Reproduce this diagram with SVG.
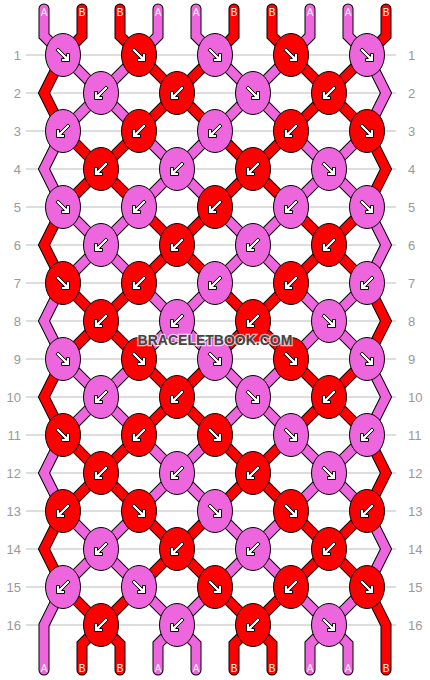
<svg xmlns="http://www.w3.org/2000/svg" xmlns:xlink="http://www.w3.org/1999/xlink" width="430" height="680" viewBox="0 0 430 680">
<style>
.grid{stroke:#bbbbbb;stroke-width:1;fill:none}
.num{font-family:"Liberation Sans",Arial,sans-serif;font-size:13px;fill:#999999}
.lbl{font-family:"Liberation Sans",Arial,sans-serif;font-size:10px;fill:#ffffff;text-anchor:middle}
.o{fill:none;stroke:#000;stroke-width:11;stroke-linecap:round;stroke-linejoin:miter}
.c{fill:none;stroke-width:9;stroke-linecap:round;stroke-linejoin:miter}
.cp{stroke:#ee66dd}
.cr{stroke:#ff0000}
.k ellipse{stroke:#000;stroke-width:1}
.p ellipse{fill:#ee66dd}
.r ellipse{fill:#ff0000}
.arr{fill:#fff;stroke:#000;stroke-width:1}
.wm{font-family:"Liberation Sans",Arial,sans-serif;font-size:14px;font-weight:bold;fill:#444;stroke:#fff;stroke-width:2.5;stroke-opacity:0.7;paint-order:stroke;text-anchor:middle}
</style>
<defs>
<polygon id="f" class="arr" points="6.5,6.5 -1.5,6.5 -1.5,3.5 1.4,3.5 -7.06,-4.94 -4.94,-7.06 3.5,1.4 3.5,-1.5 6.5,-1.5"/>
<polygon id="b" class="arr" points="-6.5,6.5 1.5,6.5 1.5,3.5 -1.4,3.5 7.06,-4.94 4.94,-7.06 -3.5,1.4 -3.5,-1.5 -6.5,-1.5"/>
</defs>
<g id="grid">
<path class="grid" d="M26 55H396M26 93H396M26 131H396M26 169H396M26 207H396M26 245H396M26 283H396M26 321H396M26 359H396M26 397H396M26 435H396M26 473H396M26 511H396M26 549H396M26 587H396M26 625H396"/>
<g class="num" text-anchor="end">
<text x="21" y="59.5">1</text><text x="21" y="97.5">2</text><text x="21" y="135.5">3</text><text x="21" y="173.5">4</text><text x="21" y="211.5">5</text><text x="21" y="249.5">6</text><text x="21" y="287.5">7</text><text x="21" y="325.5">8</text><text x="21" y="363.5">9</text><text x="21" y="401.5">10</text><text x="21" y="439.5">11</text><text x="21" y="477.5">12</text><text x="21" y="515.5">13</text><text x="21" y="553.5">14</text><text x="21" y="591.5">15</text><text x="21" y="629.5">16</text>
</g>
<g class="num">
<text x="408" y="59.5">1</text><text x="408" y="97.5">2</text><text x="408" y="135.5">3</text><text x="408" y="173.5">4</text><text x="408" y="211.5">5</text><text x="408" y="249.5">6</text><text x="408" y="287.5">7</text><text x="408" y="325.5">8</text><text x="408" y="363.5">9</text><text x="408" y="401.5">10</text><text x="408" y="439.5">11</text><text x="408" y="477.5">12</text><text x="408" y="515.5">13</text><text x="408" y="553.5">14</text><text x="408" y="591.5">15</text><text x="408" y="629.5">16</text>
</g>
</g>
<g id="threads">
<g id="outlines">
<polyline class="o" points="44,9 44,36 367,359 386,397 367,435 158,644 158,670"/>
<polyline class="o" points="82,9 82,36 63,55 44,93 63,131 367,435 386,473 367,511 234,644 234,670"/>
<polyline class="o" points="120,9 120,36 367,283 386,321 367,359 82,644 82,670"/>
<polyline class="o" points="158,9 158,36 63,131 44,169 63,207 367,511 386,549 367,587 310,644 310,670"/>
<polyline class="o" points="196,9 196,36 367,207 386,245 367,283 63,587 44,625 44,670"/>
<polyline class="o" points="234,9 234,36 63,207 44,245 63,283 367,587 386,625 386,670"/>
<polyline class="o" points="272,9 272,36 367,131 386,169 367,207 63,511 44,549 63,587 120,644 120,670"/>
<polyline class="o" points="310,9 310,36 63,283 44,321 63,359 348,644 348,670"/>
<polyline class="o" points="348,9 348,36 367,55 386,93 367,131 63,435 44,473 63,511 196,644 196,670"/>
<polyline class="o" points="386,9 386,36 63,359 44,397 63,435 272,644 272,670"/>
</g>
<g id="colors">
<polyline class="c cp" points="44,9 44,36 367,359 386,397 367,435 158,644 158,670"/>
<polyline class="c cr" points="82,9 82,36 63,55 44,93 63,131 367,435 386,473 367,511 234,644 234,670"/>
<polyline class="c cr" points="120,9 120,36 367,283 386,321 367,359 82,644 82,670"/>
<polyline class="c cp" points="158,9 158,36 63,131 44,169 63,207 367,511 386,549 367,587 310,644 310,670"/>
<polyline class="c cp" points="196,9 196,36 367,207 386,245 367,283 63,587 44,625 44,670"/>
<polyline class="c cr" points="234,9 234,36 63,207 44,245 63,283 367,587 386,625 386,670"/>
<polyline class="c cr" points="272,9 272,36 367,131 386,169 367,207 63,511 44,549 63,587 120,644 120,670"/>
<polyline class="c cp" points="310,9 310,36 63,283 44,321 63,359 348,644 348,670"/>
<polyline class="c cp" points="348,9 348,36 367,55 386,93 367,131 63,435 44,473 63,511 196,644 196,670"/>
<polyline class="c cr" points="386,9 386,36 63,359 44,397 63,435 272,644 272,670"/>
</g>
<g id="labels">
<text class="lbl" x="44" y="16">A</text><text class="lbl" x="82" y="16">B</text><text class="lbl" x="120" y="16">B</text><text class="lbl" x="158" y="16">A</text><text class="lbl" x="196" y="16">A</text><text class="lbl" x="234" y="16">B</text><text class="lbl" x="272" y="16">B</text><text class="lbl" x="310" y="16">A</text><text class="lbl" x="348" y="16">A</text><text class="lbl" x="386" y="16">B</text>
<text class="lbl" x="44" y="672">A</text><text class="lbl" x="82" y="672">B</text><text class="lbl" x="120" y="672">B</text><text class="lbl" x="158" y="672">A</text><text class="lbl" x="196" y="672">A</text><text class="lbl" x="234" y="672">B</text><text class="lbl" x="272" y="672">B</text><text class="lbl" x="310" y="672">A</text><text class="lbl" x="348" y="672">A</text><text class="lbl" x="386" y="672">B</text>
</g>
</g>
<g id="knots">
<g id="k1-1" class="k p" transform="translate(63,55)"><ellipse rx="17.5" ry="21.5"/><use href="#f"/></g>
<g id="k1-2" class="k r" transform="translate(139,55)"><ellipse rx="17.5" ry="21.5"/><use href="#f"/></g>
<g id="k1-3" class="k p" transform="translate(215,55)"><ellipse rx="17.5" ry="21.5"/><use href="#f"/></g>
<g id="k1-4" class="k r" transform="translate(291,55)"><ellipse rx="17.5" ry="21.5"/><use href="#f"/></g>
<g id="k1-5" class="k p" transform="translate(367,55)"><ellipse rx="17.5" ry="21.5"/><use href="#f"/></g>
<g id="k2-1" class="k p" transform="translate(101,93)"><ellipse rx="17.5" ry="21.5"/><use href="#b"/></g>
<g id="k2-2" class="k r" transform="translate(177,93)"><ellipse rx="17.5" ry="21.5"/><use href="#b"/></g>
<g id="k2-3" class="k p" transform="translate(253,93)"><ellipse rx="17.5" ry="21.5"/><use href="#f"/></g>
<g id="k2-4" class="k r" transform="translate(329,93)"><ellipse rx="17.5" ry="21.5"/><use href="#b"/></g>
<g id="k3-1" class="k p" transform="translate(63,131)"><ellipse rx="17.5" ry="21.5"/><use href="#b"/></g>
<g id="k3-2" class="k r" transform="translate(139,131)"><ellipse rx="17.5" ry="21.5"/><use href="#b"/></g>
<g id="k3-3" class="k p" transform="translate(215,131)"><ellipse rx="17.5" ry="21.5"/><use href="#b"/></g>
<g id="k3-4" class="k r" transform="translate(291,131)"><ellipse rx="17.5" ry="21.5"/><use href="#b"/></g>
<g id="k3-5" class="k r" transform="translate(367,131)"><ellipse rx="17.5" ry="21.5"/><use href="#f"/></g>
<g id="k4-1" class="k r" transform="translate(101,169)"><ellipse rx="17.5" ry="21.5"/><use href="#b"/></g>
<g id="k4-2" class="k p" transform="translate(177,169)"><ellipse rx="17.5" ry="21.5"/><use href="#b"/></g>
<g id="k4-3" class="k r" transform="translate(253,169)"><ellipse rx="17.5" ry="21.5"/><use href="#b"/></g>
<g id="k4-4" class="k p" transform="translate(329,169)"><ellipse rx="17.5" ry="21.5"/><use href="#f"/></g>
<g id="k5-1" class="k p" transform="translate(63,207)"><ellipse rx="17.5" ry="21.5"/><use href="#f"/></g>
<g id="k5-2" class="k p" transform="translate(139,207)"><ellipse rx="17.5" ry="21.5"/><use href="#b"/></g>
<g id="k5-3" class="k r" transform="translate(215,207)"><ellipse rx="17.5" ry="21.5"/><use href="#b"/></g>
<g id="k5-4" class="k p" transform="translate(291,207)"><ellipse rx="17.5" ry="21.5"/><use href="#b"/></g>
<g id="k5-5" class="k p" transform="translate(367,207)"><ellipse rx="17.5" ry="21.5"/><use href="#f"/></g>
<g id="k6-1" class="k p" transform="translate(101,245)"><ellipse rx="17.5" ry="21.5"/><use href="#b"/></g>
<g id="k6-2" class="k r" transform="translate(177,245)"><ellipse rx="17.5" ry="21.5"/><use href="#b"/></g>
<g id="k6-3" class="k p" transform="translate(253,245)"><ellipse rx="17.5" ry="21.5"/><use href="#b"/></g>
<g id="k6-4" class="k r" transform="translate(329,245)"><ellipse rx="17.5" ry="21.5"/><use href="#b"/></g>
<g id="k7-1" class="k r" transform="translate(63,283)"><ellipse rx="17.5" ry="21.5"/><use href="#f"/></g>
<g id="k7-2" class="k r" transform="translate(139,283)"><ellipse rx="17.5" ry="21.5"/><use href="#b"/></g>
<g id="k7-3" class="k p" transform="translate(215,283)"><ellipse rx="17.5" ry="21.5"/><use href="#b"/></g>
<g id="k7-4" class="k r" transform="translate(291,283)"><ellipse rx="17.5" ry="21.5"/><use href="#b"/></g>
<g id="k7-5" class="k p" transform="translate(367,283)"><ellipse rx="17.5" ry="21.5"/><use href="#b"/></g>
<g id="k8-1" class="k r" transform="translate(101,321)"><ellipse rx="17.5" ry="21.5"/><use href="#b"/></g>
<g id="k8-2" class="k p" transform="translate(177,321)"><ellipse rx="17.5" ry="21.5"/><use href="#b"/></g>
<g id="k8-3" class="k r" transform="translate(253,321)"><ellipse rx="17.5" ry="21.5"/><use href="#b"/></g>
<g id="k8-4" class="k p" transform="translate(329,321)"><ellipse rx="17.5" ry="21.5"/><use href="#f"/></g>
<g id="k9-1" class="k p" transform="translate(63,359)"><ellipse rx="17.5" ry="21.5"/><use href="#f"/></g>
<g id="k9-2" class="k r" transform="translate(139,359)"><ellipse rx="17.5" ry="21.5"/><use href="#f"/></g>
<g id="k9-3" class="k p" transform="translate(215,359)"><ellipse rx="17.5" ry="21.5"/><use href="#f"/></g>
<g id="k9-4" class="k r" transform="translate(291,359)"><ellipse rx="17.5" ry="21.5"/><use href="#f"/></g>
<g id="k9-5" class="k p" transform="translate(367,359)"><ellipse rx="17.5" ry="21.5"/><use href="#f"/></g>
<g id="k10-1" class="k p" transform="translate(101,397)"><ellipse rx="17.5" ry="21.5"/><use href="#b"/></g>
<g id="k10-2" class="k r" transform="translate(177,397)"><ellipse rx="17.5" ry="21.5"/><use href="#b"/></g>
<g id="k10-3" class="k p" transform="translate(253,397)"><ellipse rx="17.5" ry="21.5"/><use href="#f"/></g>
<g id="k10-4" class="k r" transform="translate(329,397)"><ellipse rx="17.5" ry="21.5"/><use href="#b"/></g>
<g id="k11-1" class="k r" transform="translate(63,435)"><ellipse rx="17.5" ry="21.5"/><use href="#f"/></g>
<g id="k11-2" class="k r" transform="translate(139,435)"><ellipse rx="17.5" ry="21.5"/><use href="#b"/></g>
<g id="k11-3" class="k r" transform="translate(215,435)"><ellipse rx="17.5" ry="21.5"/><use href="#f"/></g>
<g id="k11-4" class="k p" transform="translate(291,435)"><ellipse rx="17.5" ry="21.5"/><use href="#f"/></g>
<g id="k11-5" class="k p" transform="translate(367,435)"><ellipse rx="17.5" ry="21.5"/><use href="#b"/></g>
<g id="k12-1" class="k r" transform="translate(101,473)"><ellipse rx="17.5" ry="21.5"/><use href="#b"/></g>
<g id="k12-2" class="k p" transform="translate(177,473)"><ellipse rx="17.5" ry="21.5"/><use href="#b"/></g>
<g id="k12-3" class="k r" transform="translate(253,473)"><ellipse rx="17.5" ry="21.5"/><use href="#b"/></g>
<g id="k12-4" class="k p" transform="translate(329,473)"><ellipse rx="17.5" ry="21.5"/><use href="#f"/></g>
<g id="k13-1" class="k r" transform="translate(63,511)"><ellipse rx="17.5" ry="21.5"/><use href="#b"/></g>
<g id="k13-2" class="k r" transform="translate(139,511)"><ellipse rx="17.5" ry="21.5"/><use href="#f"/></g>
<g id="k13-3" class="k p" transform="translate(215,511)"><ellipse rx="17.5" ry="21.5"/><use href="#f"/></g>
<g id="k13-4" class="k r" transform="translate(291,511)"><ellipse rx="17.5" ry="21.5"/><use href="#f"/></g>
<g id="k13-5" class="k r" transform="translate(367,511)"><ellipse rx="17.5" ry="21.5"/><use href="#b"/></g>
<g id="k14-1" class="k p" transform="translate(101,549)"><ellipse rx="17.5" ry="21.5"/><use href="#b"/></g>
<g id="k14-2" class="k r" transform="translate(177,549)"><ellipse rx="17.5" ry="21.5"/><use href="#b"/></g>
<g id="k14-3" class="k p" transform="translate(253,549)"><ellipse rx="17.5" ry="21.5"/><use href="#b"/></g>
<g id="k14-4" class="k r" transform="translate(329,549)"><ellipse rx="17.5" ry="21.5"/><use href="#b"/></g>
<g id="k15-1" class="k p" transform="translate(63,587)"><ellipse rx="17.5" ry="21.5"/><use href="#b"/></g>
<g id="k15-2" class="k p" transform="translate(139,587)"><ellipse rx="17.5" ry="21.5"/><use href="#f"/></g>
<g id="k15-3" class="k r" transform="translate(215,587)"><ellipse rx="17.5" ry="21.5"/><use href="#f"/></g>
<g id="k15-4" class="k r" transform="translate(291,587)"><ellipse rx="17.5" ry="21.5"/><use href="#b"/></g>
<g id="k15-5" class="k r" transform="translate(367,587)"><ellipse rx="17.5" ry="21.5"/><use href="#f"/></g>
<g id="k16-1" class="k r" transform="translate(101,625)"><ellipse rx="17.5" ry="21.5"/><use href="#b"/></g>
<g id="k16-2" class="k p" transform="translate(177,625)"><ellipse rx="17.5" ry="21.5"/><use href="#b"/></g>
<g id="k16-3" class="k r" transform="translate(253,625)"><ellipse rx="17.5" ry="21.5"/><use href="#b"/></g>
<g id="k16-4" class="k p" transform="translate(329,625)"><ellipse rx="17.5" ry="21.5"/><use href="#f"/></g>
</g>
<text id="watermark" class="wm" x="215" y="345">BRACELETBOOK.COM</text>
</svg>
